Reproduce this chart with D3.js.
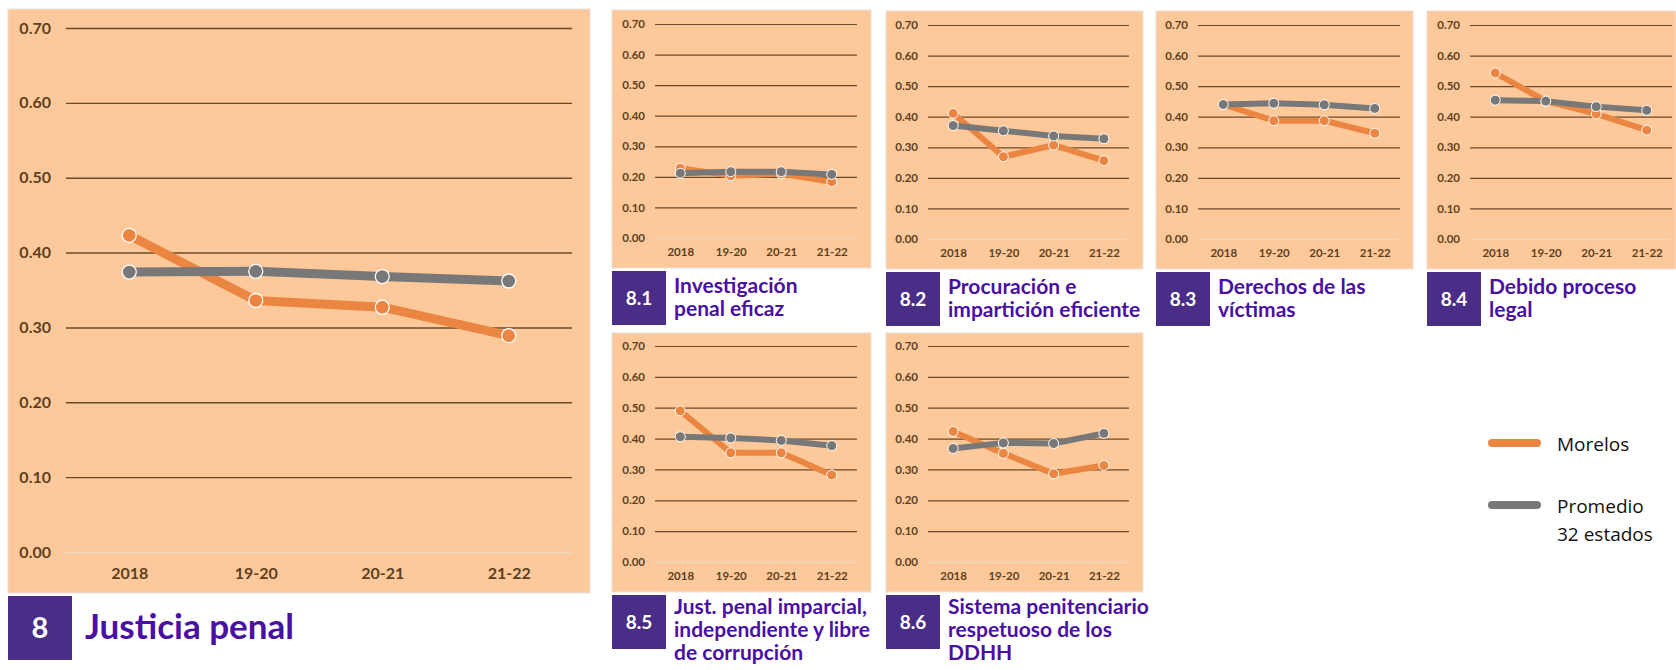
<!DOCTYPE html>
<html>
<head>
<meta charset="utf-8">
<script src="https://cdn.jsdelivr.net/npm/d3@7"></script>
<style>
  body { margin: 0; background: #fff; }
  svg { display: block; }
  .tick text { font-family: Lato, sans-serif; font-weight: bold; fill: #5e3f20; }
  .domain { display: none; }
</style>
</head>
<body>
<svg id="myGraph" width="1676" height="670"></svg>
<script>
// periodos y ticks
const years = ["2018", "19-20", "20-21", "21-22"];
const yTicks = [0, 0.1, 0.2, 0.3, 0.4, 0.5, 0.6, 0.7];

// codigos y titulos
const codes = ["8", "8.1", "8.2", "8.3", "8.4", "8.5", "8.6"];
const titles = [
  ["Justicia penal"],
  ["Investigación", "penal eficaz"],
  ["Procuración e", "impartición eficiente"],
  ["Derechos de las", "víctimas"],
  ["Debido proceso", "legal"],
  ["Just. penal imparcial,", "independiente y libre", "de corrupción"],
  ["Sistema penitenciario", "respetuoso de los", "DDHH"]
];

// Morelos
const morelos = [
  [0.423, 0.336, 0.327, 0.289],
  [0.228, 0.204, 0.210, 0.184],
  [0.411, 0.269, 0.307, 0.256],
  [0.440, 0.387, 0.387, 0.346],
  [0.543, 0.451, 0.409, 0.356],
  [0.490, 0.354, 0.354, 0.282],
  [0.423, 0.352, 0.286, 0.313]
];
// Promedio 32 estados
const promedio = [
  [0.374, 0.375, 0.368, 0.362],
  [0.212, 0.217, 0.217, 0.208],
  [0.371, 0.354, 0.337, 0.328],
  [0.440, 0.444, 0.439, 0.427],
  [0.454, 0.451, 0.433, 0.421],
  [0.406, 0.402, 0.394, 0.377],
  [0.368, 0.386, 0.384, 0.417]
];

const orange = "#eb8542";
const gray = "#787878";
const purple = "#4a2d86";
const titleColor = "#4a0fa3";

// posiciones de los paneles
const layout = [
  {x: 8, y: 9, w: 582, h: 584, pl: 58, pr: 18, pt: 19, pb: 41, big: true},
  {x: 612, y: 10, w: 259, h: 258, pl: 43, pr: 14, pt: 14, pb: 30},
  {x: 886, y: 11, w: 257, h: 258, pl: 42, pr: 14, pt: 14, pb: 30},
  {x: 1156, y: 11, w: 257, h: 258, pl: 42, pr: 13, pt: 14, pb: 30},
  {x: 1427, y: 11, w: 249, h: 258, pl: 43, pr: 4, pt: 14, pb: 30},
  {x: 612, y: 333, w: 259, h: 259, pl: 43, pr: 14, pt: 13, pb: 30},
  {x: 886, y: 333, w: 257, h: 259, pl: 42, pr: 14, pt: 13, pb: 30}
];

const svg = d3.select("#myGraph");

layout.forEach(function(L, i){
  const g = svg.append("g").attr("transform", "translate(" + L.x + "," + L.y + ")");
  const fs = L.big ? 16 : 11.5;

  g.append("rect")
    .attr("width", L.w).attr("height", L.h)
    .attr("fill", "#fdc99a")
    .attr("stroke", "#e6e0da").attr("stroke-width", 1);

  let xScale = d3.scalePoint()
    .domain(years)
    .range([L.pl, L.w - L.pr])
    .padding(0.5);
  let yScale = d3.scaleLinear()
    .domain([0, 0.7])
    .range([L.h - L.pb, L.pt]);

  // eje y con lineas de cuadricula
  const ya = g.append("g")
    .attr("transform", "translate(" + L.pl + ",0)")
    .call(d3.axisLeft(yScale).tickValues(yTicks).tickFormat(d3.format(".2f"))
      .tickSize(-(L.w - L.pl - L.pr)).tickPadding(L.big ? 15 : 10));
  ya.selectAll(".tick line")
    .attr("stroke", function(d){ return d === 0 ? "#ecd9c4" : "#6b4a2a"; })
    .attr("stroke-width", L.big ? 1.4 : 1.2);
  ya.selectAll(".tick text").style("font-size", fs + "px");

  const xa = g.append("g")
    .attr("transform", "translate(0," + (L.h - L.pb) + ")")
    .call(d3.axisBottom(xScale).tickSize(0).tickPadding(L.big ? 16 : 10));
  xa.selectAll(".tick text").style("font-size", fs + "px");

  const line = d3.line()
    .x(function(d, j){ return xScale(years[j]); })
    .y(function(d){ return yScale(d); });

  const lw = L.big ? 9 : 6;
  const r = L.big ? 7 : 5;

  [[morelos[i], orange], [promedio[i], gray]].forEach(function(s){
    g.append("path")
      .attr("d", line(s[0]))
      .attr("fill", "none")
      .attr("stroke", s[1])
      .attr("stroke-width", lw)
      .attr("stroke-linejoin", "round");
    g.selectAll(null)
      .data(s[0])
      .enter()
      .append("circle")
      .attr("cx", function(d, j){ return xScale(years[j]); })
      .attr("cy", function(d){ return yScale(d); })
      .attr("r", r)
      .attr("fill", s[1])
      .attr("stroke", "#fff")
      .attr("stroke-width", L.big ? 1.3 : 1);
  });

  // titulo
  const boxH = L.big ? 64 : 54;
  const boxW = L.big ? 64 : 54;
  const by = L.h + 3;
  g.append("rect")
    .attr("x", 0).attr("y", by)
    .attr("width", boxW).attr("height", boxH)
    .attr("fill", purple);
  g.append("text")
    .attr("x", boxW / 2).attr("y", by + boxH / 2)
    .attr("text-anchor", "middle").attr("dy", "0.36em")
    .style("font-family", "Lato, sans-serif").style("font-weight", "bold")
    .style("font-size", L.big ? "29px" : "19px")
    .attr("fill", "#fff")
    .text(codes[i]);

  const t = g.append("text")
    .style("font-family", "Lato, sans-serif").style("font-weight", "bold")
    .style("font-size", L.big ? "35px" : "21px")
    .attr("fill", titleColor);
  if (L.big) {
    t.append("tspan").attr("x", 77).attr("y", by + 43).text(titles[i][0]);
  } else {
    const base = titles[i].length > 2 ? by + 19 : by + 22;
    titles[i].forEach(function(s, k){
      t.append("tspan").attr("x", boxW + 8).attr("y", base + k * 23).text(s);
    });
  }
});

// leyenda
const legend = svg.append("g");
const legendNames = [["Morelos"], ["Promedio", "32 estados"]];
[orange, gray].forEach(function(c, k){
  const y = 443 + k * 62;
  legend.append("line")
    .attr("x1", 1492).attr("x2", 1537)
    .attr("y1", y).attr("y2", y)
    .attr("stroke", c).attr("stroke-width", 8)
    .attr("stroke-linecap", "round");
  const t = legend.append("text")
    .style("font-family", "'Open Sans', sans-serif")
    .style("font-size", "19px")
    .attr("fill", "#111");
  legendNames[k].forEach(function(s, m){
    t.append("tspan").attr("x", 1557).attr("y", y + 8 + m * 28).text(s);
  });
});
</script>
</body>
</html>
